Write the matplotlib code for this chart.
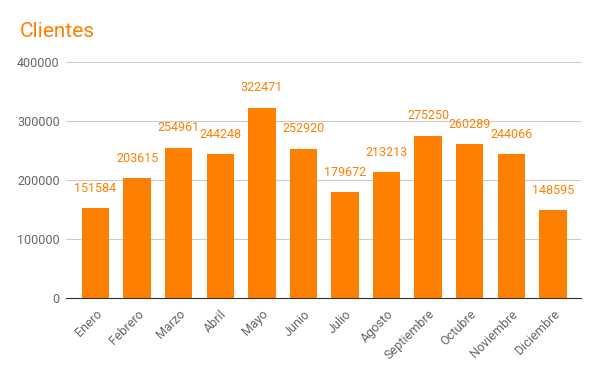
import matplotlib
matplotlib.use("Agg")
import matplotlib.pyplot as plt

months = ["Enero", "Febrero", "Marzo", "Abril", "Mayo", "Junio", "Julio",
          "Agosto", "Septiembre", "Octubre", "Noviembre", "Diciembre"]
clientes = [151584, 203615, 254961, 244248, 322471, 252920, 179672,
            213213, 275250, 260289, 244066, 148595]
yticks = [0, 100000, 200000, 300000, 400000]

orange = "#ff8000"
plt.rcParams["font.family"] = ["Roboto", "DejaVu Sans"]

fig = plt.figure(figsize=(6, 3.71), dpi=100)
ax = fig.add_axes([0.11, 0.197, 0.858, 0.636])
x = range(len(months))
ax.bar(x, clientes, width=0.66, color=orange, zorder=3)
for xi, v in zip(x, clientes):
    ax.annotate(str(v), (xi, v), xytext=(0, 14.2), textcoords="offset points",
                ha="center", va="center", color=orange, fontsize=9)

ax.set_ylim(0, 400000)
ax.set_xlim(-0.71, 11.67)
ax.set_yticks(yticks)
ax.set_yticklabels([str(t) for t in yticks])
ax.grid(axis="y", color="#cccccc", linewidth=0.8, zorder=0)
for s in ["top", "right", "left"]:
    ax.spines[s].set_visible(False)
ax.spines["bottom"].set_color("#333333")
ax.spines["bottom"].set_zorder(4)
ax.tick_params(axis="both", length=0, labelsize=9, colors="#666666")
ax.tick_params(axis="y", pad=4.5)
ax.set_xticks(list(x))
ax.set_xticklabels(months, rotation=45, ha="right", rotation_mode="anchor")
ax.tick_params(axis="x", pad=7)
for lbl in ax.get_xticklabels():
    lbl.set_x(lbl.get_position()[0])

fig.text(0.033, 0.914, "Clientes", color=orange, fontsize=15, ha="left", va="center")
fig.savefig("out.png", dpi=100, facecolor="white")
